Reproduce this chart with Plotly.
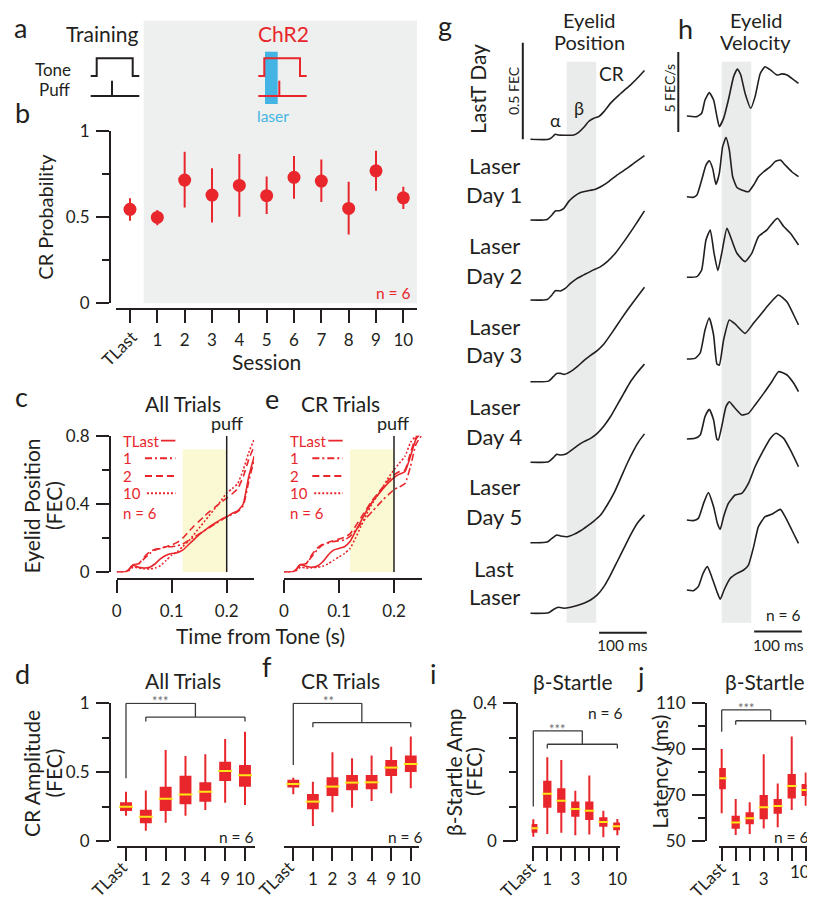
import plotly.graph_objects as go

# The page body has an 8px margin, so the figure is sized to end at the window edge
# and every reference pixel position is shifted by that offset.
OFF = 8
PAGE_W, PAGE_H = 815, 900
W, H = PAGE_W - OFF, PAGE_H - OFF
FONT = "Lato"
INK = "#231f20"
RED = "#e8262b"
YEL = "#ffe419"
BLUE = "#43b4e3"
GRAYBG = "#eef0ef"
BAND = "#e9ecea"
PUFFBG = "#fbf9d4"
STAR = "#6d6e70"


def X(px):
    return (px - OFF) / W


def Y(py):
    return 1 - (py - OFF) / H


# ------------------------------------------------------------------ data
# panel b : CR probability per session
sessions_b = ["TLast", "1", "2", "3", "4", "5", "6", "7", "8", "9", "10"]
cr_prob = [0.543, 0.496, 0.713, 0.626, 0.682, 0.622, 0.729, 0.707, 0.548, 0.767, 0.610]
cr_prob_hi = [0.607, 0.539, 0.878, 0.781, 0.864, 0.733, 0.853, 0.833, 0.703, 0.884, 0.674]
cr_prob_lo = [0.477, 0.450, 0.554, 0.467, 0.500, 0.516, 0.605, 0.585, 0.397, 0.651, 0.545]

# panels c / e : mean eyelid position (FEC) vs time from tone (s)
time_s = [0.00, 0.01, 0.02, 0.03, 0.04, 0.05, 0.06, 0.07, 0.08, 0.09, 0.10, 0.11, 0.12,
          0.13, 0.14, 0.15, 0.16, 0.17, 0.18, 0.19, 0.20, 0.21, 0.22, 0.23, 0.24, 0.25]
all_tlast = [0, 0, 0.01, 0.04, 0.03, 0.025, 0.03, 0.05, 0.08, 0.10, 0.11, 0.115, 0.13,
             0.16, 0.19, 0.22, 0.245, 0.27, 0.29, 0.31, 0.325, 0.345, 0.36, 0.40, 0.56, 0.68]
all_s1 = [0, 0, 0.01, 0.045, 0.05, 0.08, 0.11, 0.13, 0.14, 0.15, 0.15, 0.155, 0.165,
          0.185, 0.205, 0.225, 0.245, 0.265, 0.285, 0.305, 0.325, 0.34, 0.355, 0.39, 0.53, 0.66]
all_s2 = [0, 0, 0.01, 0.045, 0.05, 0.09, 0.12, 0.135, 0.14, 0.15, 0.16, 0.175, 0.20,
          0.235, 0.27, 0.30, 0.33, 0.36, 0.385, 0.41, 0.435, 0.46, 0.49, 0.56, 0.66, 0.74]
all_s10 = [0, 0, 0.005, 0.03, 0.025, 0.02, 0.02, 0.025, 0.04, 0.07, 0.10, 0.12, 0.15,
           0.18, 0.22, 0.26, 0.30, 0.34, 0.38, 0.42, 0.465, 0.49, 0.52, 0.60, 0.70, 0.78]
cr_tlast = [0, 0, 0.01, 0.045, 0.035, 0.03, 0.035, 0.06, 0.10, 0.13, 0.14, 0.15, 0.18,
            0.24, 0.30, 0.36, 0.41, 0.45, 0.49, 0.525, 0.555, 0.575, 0.59, 0.68, 0.78, 0.82]
cr_s1 = [0, 0, 0.01, 0.045, 0.05, 0.09, 0.13, 0.16, 0.17, 0.18, 0.185, 0.19, 0.21,
         0.245, 0.285, 0.32, 0.355, 0.39, 0.425, 0.455, 0.485, 0.50, 0.52, 0.62, 0.75, 0.80]
cr_s2 = [0, 0, 0.01, 0.045, 0.05, 0.10, 0.14, 0.165, 0.175, 0.185, 0.195, 0.205, 0.225,
         0.27, 0.32, 0.37, 0.42, 0.46, 0.50, 0.54, 0.57, 0.59, 0.60, 0.70, 0.79, 0.82]
cr_s10 = [0, 0, 0.005, 0.03, 0.025, 0.025, 0.03, 0.035, 0.05, 0.07, 0.09, 0.11, 0.14,
          0.20, 0.27, 0.34, 0.40, 0.45, 0.50, 0.555, 0.60, 0.64, 0.68, 0.76, 0.80, 0.82]
curve_labels = ["TLast", "1", "2", "10"]
yellow_window = (0.12, 0.20)
yellow_top = 0.72
puff_time = 0.20

# panels d / f : CR amplitude box stats
sessions_df = ["TLast", "1", "2", "3", "4", "9", "10"]
d_hi = [0.358, 0.366, 0.661, 0.617, 0.630, 0.741, 0.794]
d_q3 = [0.274, 0.220, 0.387, 0.467, 0.419, 0.569, 0.545]
d_med = [0.249, 0.177, 0.307, 0.337, 0.358, 0.508, 0.477]
d_q1 = [0.225, 0.136, 0.225, 0.274, 0.293, 0.443, 0.402]
d_lo = [0.184, 0.075, 0.133, 0.184, 0.225, 0.278, 0.261]
f_hi = [0.460, 0.431, 0.644, 0.600, 0.620, 0.685, 0.758]
f_q3 = [0.438, 0.334, 0.455, 0.472, 0.472, 0.581, 0.613]
f_med = [0.414, 0.286, 0.395, 0.424, 0.426, 0.533, 0.559]
f_q1 = [0.395, 0.237, 0.334, 0.375, 0.383, 0.479, 0.508]
f_lo = [0.339, 0.109, 0.208, 0.242, 0.290, 0.346, 0.383]

# panels i / j : beta-startle box stats
sessions_ij = ["TLast", "1", "2", "3", "4", "5", "10"]
ticklabels_i = ["", "1", "", "3", "", "", "10"]
ticklabels_j = ["", "1", "", "3", "", "", ""]
i_hi = [0.063, 0.243, 0.235, 0.146, 0.190, 0.088, 0.064]
i_q3 = [0.0465, 0.172, 0.150, 0.112, 0.112, 0.066, 0.051]
i_med = [0.0368, 0.137, 0.117, 0.093, 0.088, 0.055, 0.043]
i_q1 = [0.027, 0.0998, 0.085, 0.073, 0.064, 0.044, 0.034]
i_lo = [0.0126, 0.020, 0.024, 0.017, 0.019, 0.011, 0.017]
j_hi = [90.1, 68.3, 66.9, 87.8, 75.1, 95.5, 79.8]
j_q3 = [81.4, 60.6, 62.1, 69.6, 67.9, 78.8, 74.4]
j_med = [77.3, 58.1, 59.9, 64.7, 65.3, 74.0, 72.2]
j_q1 = [73.0, 55.8, 57.7, 59.9, 62.3, 69.0, 70.0]
j_lo = [62.1, 52.6, 53.1, 55.5, 56.0, 63.5, 65.4]

# panel g : eyelid position traces (t in ms, FEC)
pos_lastT_t = [0, 38, 45, 52, 59, 70, 91, 101, 112, 122, 133, 143, 154, 168, 182, 196, 210, 224, 239]
pos_lastT_v = [0, 0, 0.010, 0.026, 0.022, 0.021, 0.022, 0.036, 0.062, 0.092, 0.109, 0.117, 0.143,
               0.187, 0.221, 0.252, 0.282, 0.316, 0.356]
pos_day1_t = [0, 35, 45, 52, 61, 70, 80, 91, 105, 119, 136, 150, 164, 182, 203, 220, 239]
pos_day1_v = [0, 0.003, 0.026, 0.047, 0.048, 0.060, 0.095, 0.121, 0.142, 0.150, 0.159, 0.176, 0.199,
              0.233, 0.268, 0.299, 0.333]
pos_day2_t = [0, 35, 45, 52, 63, 73, 84, 98, 112, 129, 147, 161, 178, 196, 213, 227, 239]
pos_day2_v = [0, 0.003, 0.026, 0.048, 0.047, 0.060, 0.086, 0.112, 0.130, 0.152, 0.173, 0.199, 0.242,
              0.302, 0.363, 0.415, 0.461]
pos_day3_t = [0, 38, 48, 55, 63, 71, 84, 98, 112, 126, 140, 154, 171, 189, 206, 224, 239]
pos_day3_v = [0, 0.003, 0.026, 0.043, 0.043, 0.038, 0.052, 0.078, 0.109, 0.136, 0.161, 0.195, 0.254,
              0.320, 0.380, 0.440, 0.489]
pos_day4_t = [0, 38, 48, 55, 63, 73, 84, 98, 112, 126, 140, 154, 168, 182, 196, 210, 224, 239]
pos_day4_v = [0, 0.003, 0.024, 0.041, 0.038, 0.041, 0.059, 0.085, 0.107, 0.124, 0.150, 0.188, 0.237,
              0.297, 0.358, 0.418, 0.465, 0.508]
pos_day5_t = [0, 35, 45, 55, 63, 77, 91, 105, 119, 133, 147, 161, 175, 189, 203, 217, 227, 239]
pos_day5_v = [0, 0.003, 0.022, 0.040, 0.035, 0.031, 0.043, 0.062, 0.086, 0.112, 0.143, 0.195, 0.256,
              0.333, 0.411, 0.480, 0.523, 0.563]
pos_last_t = [0, 38, 49, 59, 70, 84, 98, 112, 126, 140, 154, 168, 182, 196, 210, 224, 239]
pos_last_v = [0, 0.003, 0.021, 0.031, 0.026, 0.031, 0.040, 0.052, 0.069, 0.095, 0.138, 0.199, 0.268,
              0.337, 0.406, 0.466, 0.509]

# panel h : eyelid velocity traces (t in ms, FEC/s)
vel_lastT_t = [3, 24, 34, 41, 50, 59, 66, 71, 80, 90, 101, 109, 116, 125, 137, 146, 157, 167, 178,
               192, 202, 213, 223, 237]
vel_lastT_v = [0, -0.04, 0.17, 1.0, 1.46, 1.0, -0.04, -0.67, -0.15, 1.0, 2.46, 2.94, 2.56, 1.42,
               0.48, 1.21, 2.67, 3.08, 2.88, 2.56, 2.63, 2.56, 2.35, 2.04]
vel_day1_t = [3, 17, 24, 34, 43, 50, 57, 64, 71, 78, 85, 92, 99, 108, 118, 132, 143, 153, 164, 178,
              188, 199, 209, 223, 237]
vel_day1_v = [0, -0.04, 0.10, 1.04, 1.98, 2.25, 1.77, 0.77, 1.46, 3.13, 3.69, 2.92, 1.25, 0.58,
              0.42, 0.31, 0.73, 1.25, 1.56, 1.88, 2.19, 2.29, 1.98, 1.56, 1.25]
vel_day2_t = [3, 24, 34, 43, 52, 60, 68, 76, 87, 97, 108, 125, 139, 153, 171, 185, 193, 206, 220, 237]
vel_day2_v = [0, 0.04, 0.46, 2.33, 2.96, 1.5, 0.42, 1.5, 3.06, 2.33, 1.5, 0.98, 1.5, 2.54, 2.96,
              3.48, 3.69, 3.17, 2.75, 2.02]
vel_day3_t = [3, 20, 31, 41, 50, 59, 66, 71, 80, 92, 104, 125, 143, 157, 174, 195, 213, 227, 237]
vel_day3_v = [0, 0.04, 0.38, 1.81, 2.56, 1.5, -0.31, -0.38, 1.19, 2.44, 2.19, 1.6, 2.25, 2.75,
              3.38, 4.0, 3.56, 2.75, 2.13]
vel_day4_t = [3, 20, 31, 41, 50, 59, 66, 69, 76, 85, 92, 104, 118, 132, 146, 164, 181, 195, 213, 227, 237]
vel_day4_v = [0, 0.04, 0.25, 1.40, 1.85, 1.19, -0.02, -0.06, 0.77, 2.02, 2.33, 1.92, 1.50, 1.60,
              2.13, 2.85, 3.58, 4.21, 4.00, 3.48, 2.96]
vel_day5_t = [3, 17, 27, 38, 48, 59, 67, 73, 80, 90, 104, 118, 132, 146, 164, 178, 190, 206, 220, 237]
vel_day5_v = [0, -0.04, 0.10, 1.04, 1.71, 0.83, -0.21, -0.58, 0.21, 1.04, 1.56, 1.67, 2.29, 3.33,
              4.38, 5.10, 5.42, 5.10, 4.38, 3.33]
vel_last_t = [3, 17, 27, 37, 46, 55, 66, 73, 81, 94, 108, 122, 132, 143, 153, 167, 181, 199, 209, 223, 237]
vel_last_v = [0, -0.04, 0.21, 1.04, 1.46, 0.83, -0.10, -0.58, 0, 0.73, 1.04, 1.25, 1.56, 2.71,
              3.96, 4.58, 4.73, 5.04, 4.58, 3.75, 2.92]

row_labels = [None, ("Laser", "Day 1"), ("Laser", "Day 2"), ("Laser", "Day 3"),
              ("Laser", "Day 4"), ("Laser", "Day 5"), ("Last", "Laser")]
laser_window_ms = (76, 138)
scalebar_ms = 100
scalebar_fec = 0.5
scalebar_vel = 5

# ------------------------------------------------------------------ helpers
fig = go.Figure()
shapes = []
anns = []


def ann(text, px, py, size, color=INK, xa="center", ya="middle", angle=0):
    anns.append(dict(text=text, x=X(px), y=Y(py), xref="paper", yref="paper",
                     xanchor=xa, yanchor=ya, showarrow=False, textangle=angle,
                     font=dict(family=FONT, size=size, color=color)))


def axis_base():
    return dict(showgrid=False, zeroline=False, showline=True, linecolor=INK, linewidth=2,
                ticks="outside", tickcolor=INK, tickwidth=2, ticklen=13, automargin=False,
                ticklabelstandoff=3, ticklabeloverflow="allow",
                tickfont=dict(family=FONT, size=17, color=INK), fixedrange=True)


def xdef(x0, x1, rng, ypos, tickvals, ticktext):
    d = axis_base()
    d.update(domain=[X(x0), X(x1)], range=rng, anchor="free", position=Y(ypos),
             tickmode="array", tickvals=tickvals, ticktext=ticktext)
    return d


def ydef(ybot, ytop, rng, xpos, tickvals, ticktext, minor):
    d = axis_base()
    d.update(domain=[Y(ybot), Y(ytop)], range=rng, anchor="free", position=X(xpos),
             tickmode="array", tickvals=tickvals, ticktext=ticktext,
             minor=dict(tickmode="array", tickvals=minor, ticks="outside", ticklen=7,
                        tickwidth=2, tickcolor=INK))
    return d


def hid(lo, hi, rng, is_x):
    # x: lo/hi = left/right px ; y: lo/hi = bottom/top px
    if is_x:
        dom = [X(lo), X(hi)]
    else:
        dom = [Y(lo), Y(hi)]
    return dict(visible=False, domain=dom, range=rng, anchor="free", position=0,
                fixedrange=True, automargin=False)


lay = {}

# ------------------------------------------------------------------ panel b
lay["xaxis"] = xdef(116, 417, [-0.512, 10.5], 309, list(range(len(sessions_b))),
                    [""] + sessions_b[1:])
lay["yaxis"] = ydef(302.7, 130.7, [0, 1], 110, [0, 0.5, 1], ["0", "0.5", "1"], [0.25, 0.75])
shapes.append(dict(type="rect", xref="x", yref="paper", x0=0.5, x1=len(sessions_b) - 0.5,
                   y0=Y(303.3), y1=Y(20.7), fillcolor=GRAYBG, line=dict(width=0), layer="below"))
fig.add_trace(go.Scatter(
    x=list(range(len(sessions_b))), y=cr_prob, mode="markers", xaxis="x", yaxis="y",
    marker=dict(size=13, color=RED),
    error_y=dict(type="data", symmetric=False,
                 array=[h - m for h, m in zip(cr_prob_hi, cr_prob)],
                 arrayminus=[m - l for m, l in zip(cr_prob, cr_prob_lo)],
                 color=RED, thickness=2, width=0)))

# ------------------------------------------------------------------ panels c / e
lay["xaxis2"] = xdef(116.7, 254.2, [0, 0.25], 579.3, [0, 0.1, 0.2], ["0", "0.1", "0.2"])
lay["yaxis2"] = ydef(572.3, 435.7, [0, 0.8], 110, [0, 0.4, 0.8], ["0", "0.4", "0.8"], [0.2, 0.6])
lay["xaxis3"] = xdef(284, 421.5, [0, 0.25], 579.3, [0, 0.1, 0.2], ["0", "0.1", "0.2"])
lay["yaxis3"] = hid(572.3, 435.7, [0, 0.8], False)

dashes = ["solid", "7px,3px,2px,3px", "7px,4px", "2px,2px"]
leg_y = [0.771, 0.668, 0.564, 0.463]
leg_x0 = [0.0805, 0.0515, 0.0515, 0.055]
for xa, ya, curves in (("x2", "y2", [all_tlast, all_s1, all_s2, all_s10]),
                       ("x3", "y3", [cr_tlast, cr_s1, cr_s2, cr_s10])):
    shapes.append(dict(type="rect", xref=xa, yref=ya, x0=yellow_window[0], x1=yellow_window[1],
                       y0=0, y1=yellow_top, fillcolor=PUFFBG, line=dict(width=0), layer="below"))
    shapes.append(dict(type="line", xref=xa, yref=ya, x0=puff_time, x1=puff_time, y0=0, y1=0.8,
                       line=dict(color=INK, width=1.5)))
    for cv, ds in zip(curves, dashes):
        fig.add_trace(go.Scatter(x=time_s, y=cv, mode="lines", xaxis=xa, yaxis=ya,
                                 line=dict(color=RED, width=1.6, dash=ds, shape="spline",
                                           smoothing=0.5)))
    for lab, ly, lx0, ds in zip(curve_labels, leg_y, leg_x0, dashes):
        shapes.append(dict(type="line", xref=xa, yref=ya, x0=lx0, x1=0.1067, y0=ly, y1=ly,
                           line=dict(color=RED, width=1.8, dash=ds)))
        anns.append(dict(text=lab, x=0.007, y=ly, xref=xa, yref=ya, xanchor="left",
                         yanchor="middle", showarrow=False,
                         font=dict(family=FONT, size=15, color=RED)))
    anns.append(dict(text="n = 6", x=0.007, y=0.349, xref=xa, yref=ya, xanchor="left",
                     yanchor="middle", showarrow=False, font=dict(family=FONT, size=15, color=RED)))


# ------------------------------------------------------------------ box panels
def box_panel(n, cats, lo, q1, med, q3, hi, width, medpx):
    xa, ya = "x%d" % n, "y%d" % n
    idx = list(range(len(cats)))
    fig.add_trace(go.Box(x=idx, q1=q1, median=med, q3=q3, lowerfence=lo, upperfence=hi,
                         xaxis=xa, yaxis=ya, width=width, whiskerwidth=0, fillcolor=RED,
                         line=dict(color=RED, width=2), boxpoints=False))
    fig.add_trace(go.Scatter(x=idx, y=med, mode="markers", xaxis=xa, yaxis=ya,
                             marker=dict(symbol="line-ew", size=medpx, color=YEL,
                                         line=dict(color=YEL, width=2))))


def bracket(n, left_y, top, mid_x, lower, tick, x_from, x_to):
    xa, ya = "x%d" % n, "y%d" % n
    st = dict(color="#3a3a3a", width=1.3)
    for (x0, y0, x1, y1) in ((0, left_y, 0, top), (0, top, mid_x, top), (mid_x, top, mid_x, lower),
                             (x_from, lower, x_to, lower), (x_from, lower, x_from, tick),
                             (x_to, lower, x_to, tick)):
        shapes.append(dict(type="line", xref=xa, yref=ya, x0=x0, y0=y0, x1=x1, y1=y1, line=st))


lay["xaxis4"] = xdef(116.7, 255, [-0.469, 6.505], 847.3, list(range(7)), [""] + sessions_df[1:])
lay["yaxis4"] = ydef(841, 702.6, [0, 1.005], 110, [0, 0.5, 1], ["0", "0.5", "1"], [0.25, 0.75])
lay["xaxis5"] = xdef(284, 419, [-0.475, 6.42], 847.3, list(range(7)), [""] + sessions_df[1:])
lay["yaxis5"] = hid(841, 702.6, [0, 1.005], False)
lay["xaxis6"] = xdef(531.7, 620, [-0.114, 6.19], 847.3, list(range(7)), ticklabels_i)
lay["yaxis6"] = ydef(841, 703.3, [0, 0.4], 517.3, [0, 0.4], ["0", "0.4"], [0.1, 0.2, 0.3])
lay["xaxis7"] = xdef(719.3, 806.7, [-0.171, 6.07], 847.3, list(range(7)), ticklabels_j)
lay["yaxis7"] = ydef(841, 703.3, [50, 110], 706, [50, 70, 90, 110], ["50", "70", "90", "110"],
                     [60, 80, 100])

box_panel(4, sessions_df, d_lo, d_q1, d_med, d_q3, d_hi, 0.5, 10)
box_panel(5, sessions_df, f_lo, f_q1, f_med, f_q3, f_hi, 0.5, 10)
box_panel(6, sessions_ij, i_lo, i_q1, i_med, i_q3, i_hi, 0.45, 7)
box_panel(7, sessions_ij, j_lo, j_q1, j_med, j_q3, j_hi, 0.45, 7)
bracket(4, 0.455, 1.0, 3.5, 0.90, 0.867, 1, 6)
bracket(5, 0.552, 1.0, 3.5, 0.86, 0.826, 1, 6)
bracket(6, 0.10, 0.32, 3.5, 0.281, 0.269, 1, 6)
bracket(7, 97.6, 107.1, 3.5, 102.4, 100.6, 1, 6)

# ------------------------------------------------------------------ panels g / h
pos_rows = [(pos_lastT_t, pos_lastT_v), (pos_day1_t, pos_day1_v), (pos_day2_t, pos_day2_v),
            (pos_day3_t, pos_day3_v), (pos_day4_t, pos_day4_v), (pos_day5_t, pos_day5_v),
            (pos_last_t, pos_last_v)]
vel_rows = [(vel_lastT_t, vel_lastT_v), (vel_day1_t, vel_day1_v), (vel_day2_t, vel_day2_v),
            (vel_day3_t, vel_day3_v), (vel_day4_t, vel_day4_v), (vel_day5_t, vel_day5_v),
            (vel_last_t, vel_last_v)]
g_base = [139.3, 220, 300, 381.7, 462.3, 542.7, 613.3]
h_base = [116, 196.7, 277.3, 359, 439, 520, 590]
G_PX = 193.3   # px per FEC
H_PX = 16.0    # px per FEC/s

lay["xaxis8"] = hid(520.9, 649.7, [-20, 250], True)
lay["xaxis9"] = hid(675.9, 804.7, [-20, 250], True)
for k in range(7):
    B = g_base[k]
    top, bot = max(B - 125, OFF), min(B + 30, PAGE_H)
    lay["yaxis%d" % (8 + k)] = hid(bot, top, [-(bot - B) / G_PX, (B - top) / G_PX], False)
    fig.add_trace(go.Scatter(x=pos_rows[k][0], y=pos_rows[k][1], mode="lines", xaxis="x8",
                             yaxis="y%d" % (8 + k),
                             line=dict(color=INK, width=1.6, shape="spline", smoothing=0.6)))
    B = h_base[k]
    top, bot = max(B - 125, OFF), min(B + 45, PAGE_H)
    lay["yaxis%d" % (15 + k)] = hid(bot, top, [-(bot - B) / H_PX, (B - top) / H_PX], False)
    fig.add_trace(go.Scatter(x=vel_rows[k][0], y=vel_rows[k][1], mode="lines", xaxis="x9",
                             yaxis="y%d" % (15 + k),
                             line=dict(color=INK, width=1.6, shape="spline", smoothing=0.5)))

for xa in ("x8", "x9"):
    shapes.append(dict(type="rect", xref=xa, yref="paper", x0=laser_window_ms[0],
                       x1=laser_window_ms[1], y0=Y(622.7), y1=Y(61.7), fillcolor=BAND,
                       line=dict(width=0), layer="below"))
bar = dict(color=INK, width=2)
shapes.append(dict(type="line", xref="x8", yref="y8", x0=-16, x1=-16, y0=0, y1=scalebar_fec, line=bar))
shapes.append(dict(type="line", xref="x9", yref="y15", x0=-15, x1=-15, y0=-1,
                   y1=-1 + scalebar_vel, line=bar))
shapes.append(dict(type="line", xref="x8", yref="y14", x0=244 - scalebar_ms, x1=244,
                   y0=-0.10, y1=-0.10, line=bar))
shapes.append(dict(type="line", xref="x9", yref="y21", x0=244 - scalebar_ms, x1=244,
                   y0=-2.6, y1=-2.6, line=bar))


# ------------------------------------------------------------------ panel a schematic
def P(pts):
    return "M " + " L ".join("%f,%f" % (X(a), Y(b)) for a, b in pts)


shapes.append(dict(type="rect", xref="paper", yref="paper", x0=X(265), x1=X(277.7),
                   y0=Y(104), y1=Y(51.7), fillcolor=BLUE, line=dict(width=0)))
schem = [(INK, 90.7, 96.7, 132.7, 139.3, 112), (RED, 258.3, 264.3, 300, 306.7, 279.3)]
for col, xs, xon, xoff, xe, xpuff in schem:
    shapes.append(dict(type="path", xref="paper", yref="paper", line=dict(color=col, width=2),
                       path=P([(xs, 76), (xon, 76), (xon, 58.3), (xoff, 58.3), (xoff, 76), (xe, 76)])))
    shapes.append(dict(type="path", xref="paper", yref="paper", line=dict(color=col, width=2),
                       path=P([(xs, 96), (xe, 96)])))
    shapes.append(dict(type="path", xref="paper", yref="paper", line=dict(color=col, width=2),
                       path=P([(xpuff, 80.7), (xpuff, 96)])))

# ------------------------------------------------------------------ text
for t, x, y in (("a", 20.7, 28), ("b", 22.7, 112), ("c", 21.7, 396.7), ("e", 271.7, 398.3),
                ("d", 22.7, 673.3), ("f", 266.7, 666.7), ("g", 445, 25), ("h", 685, 28.3),
                ("i", 433.3, 673.3), ("j", 640.7, 676.7)):
    ann(t, x, y, 27)

ann("Training", 102.5, 33.3, 21)
ann("ChR2", 283, 33.3, 21, RED)
ann("Tone", 73, 70, 17, xa="right")
ann("Puff", 73.3, 89.8, 17, xa="right")
ann("laser", 272.7, 116, 15.5, BLUE)
ann("n = 6", 393.7, 293.3, 15.5, RED)
ann("CR Probability", 45, 216.7, 20, angle=-90)
ann("Session", 266.7, 361, 21)
for x, y in ((119, 348.7), (109.5, 878.7), (276.3, 878.7), (517.5, 879), (707.5, 879)):
    ann("TLast", x, y, 17, angle=-45)
ann("10", 799.5, 871, 17)

ann("All Trials", 182.7, 403.3, 21)
ann("CR Trials", 340, 403.3, 21)
ann("puff", 226.7, 423.3, 18)
ann("puff", 392.7, 423.3, 18)
ann("Eyelid Position", 31.7, 505.8, 21, angle=-90)
ann("(FEC)", 53.3, 505.8, 21, angle=-90)
ann("Time from Tone (s)", 260, 635, 21)

ann("All Trials", 182.7, 680, 21)
ann("CR Trials", 340, 680, 21)
ann("CR Amplitude", 31.7, 773.3, 21, angle=-90)
ann("(FEC)", 53.3, 773.3, 21, angle=-90)
ann("***", 160, 701, 13, STAR)
ann("**", 328.3, 701, 13, STAR)
ann("n = 6", 236.7, 836.7, 15.5)
ann("n = 6", 405, 836.7, 15.5)

ann("β-Startle", 572.7, 681, 21)
ann("β-Startle", 765, 681, 21)
ann("β-Startle Amp", 453.3, 771.7, 21, angle=-90)
ann("(FEC)", 473.3, 771.7, 21, angle=-90)
ann("Latency (ms)", 660, 771.7, 21, angle=-90)
ann("***", 557.7, 729, 13, STAR)
ann("***", 746, 708, 13, STAR)
ann("n = 6", 605, 712.7, 15.5)
ann("n = 6", 791.7, 836.7, 15.5)

ann("Eyelid", 589.2, 20, 20)
ann("Position", 589.2, 42, 20)
ann("Eyelid", 755.8, 20, 20)
ann("Velocity", 755.8, 42, 20)
ann("LastT Day", 476.7, 89.2, 21, angle=-90)
label_lines = [None, (165.7, 194.3), (245.7, 275.7), (326, 355), (406.7, 436.7),
               (486.7, 516.7), (568.3, 596.7)]
for lab, ys in zip(row_labels, label_lines):
    if lab is None:
        continue
    ann(lab[0], 494, ys[0], 22)
    ann(lab[1], 494, ys[1], 22)
ann("α", 555, 120, 18)
ann("β", 579.3, 108.3, 18)
ann("CR", 611.7, 74, 19)
ann("0.5 FEC", 513.3, 90.8, 14, angle=-90)
ann("5 FEC/s", 669.3, 88.3, 14, angle=-90)
ann("n = 6", 783.3, 615, 15.5)
ann("100 ms", 622.7, 645, 15.5)
ann("100 ms", 778.3, 645, 15.5)

fig.update_layout(**lay)
fig.update_layout(template="none", width=W, height=H, autosize=False,
                  margin=dict(l=0, r=0, t=0, b=0, pad=0, autoexpand=False),
                  paper_bgcolor="white", plot_bgcolor="rgba(0,0,0,0)", showlegend=False,
                  shapes=shapes, annotations=anns, font=dict(family=FONT, color=INK))
fig.write_html("out.html", config={"displayModeBar": False})
